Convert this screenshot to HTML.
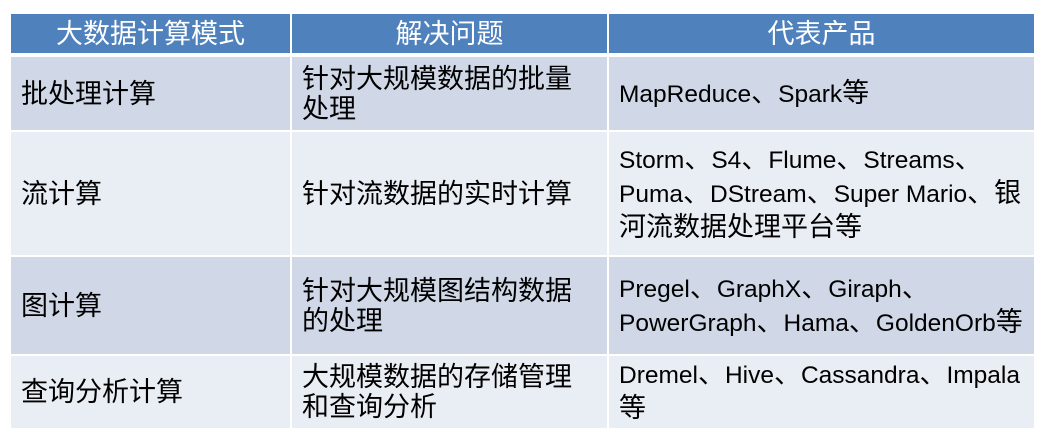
<!DOCTYPE html>
<html><head><meta charset="utf-8"><style>
body{margin:0;width:1060px;height:439px;background:#fff;position:relative;overflow:hidden;font-family:"Liberation Sans","Noto Sans CJK SC",sans-serif;color:#000}
.c{position:absolute;box-sizing:border-box;display:flex;align-items:center;padding-left:10px;font-size:27px;line-height:30px;white-space:nowrap}
.h{background:#4f81bd;color:#fff;justify-content:center;padding:0;font-size:27px}
.p{font-size:24.5px;line-height:32px}
.p span{font-size:27px}
.a{background:#d0d8e8}.b{background:#e9edf4}
</style></head><body>
<div class="c h" style="left:11px;top:14px;width:279px;height:39px">大数据计算模式</div>
<div class="c h" style="left:292px;top:14px;width:315px;height:39px">解决问题</div>
<div class="c h" style="left:609px;top:14px;width:425px;height:39px">代表产品</div>

<div class="c a" style="left:11px;top:57px;width:279px;height:73px">批处理计算</div>
<div class="c a" style="left:292px;top:57px;width:315px;height:73px"><div>针对大规模数据的批量<br>处理</div></div>
<div class="c a p" style="left:609px;top:57px;width:425px;height:73px"><div>MapReduce<span>、</span>Spark<span>等</span></div></div>

<div class="c b" style="left:11px;top:132px;width:279px;height:123px">流计算</div>
<div class="c b" style="left:292px;top:132px;width:315px;height:123px">针对流数据的实时计算</div>
<div class="c b p" style="left:609px;top:132px;width:425px;height:123px"><div>Storm<span>、</span>S4<span>、</span>Flume<span>、</span>Streams<span>、</span><br>Puma<span>、</span>DStream<span>、</span>Super Mario<span>、银</span><br><span>河流数据处理平台等</span></div></div>

<div class="c a" style="left:11px;top:257px;width:279px;height:97px">图计算</div>
<div class="c a" style="left:292px;top:257px;width:315px;height:97px"><div>针对大规模图结构数据<br>的处理</div></div>
<div class="c a p" style="left:609px;top:257px;width:425px;height:97px"><div>Pregel<span>、</span>GraphX<span>、</span>Giraph<span>、</span><br>PowerGraph<span>、</span>Hama<span>、</span>GoldenOrb<span>等</span></div></div>

<div class="c b" style="left:11px;top:356px;width:279px;height:72px">查询分析计算</div>
<div class="c b" style="left:292px;top:356px;width:315px;height:72px"><div>大规模数据的存储管理<br>和查询分析</div></div>
<div class="c b p" style="left:609px;top:356px;width:425px;height:72px"><div>Dremel<span>、</span>Hive<span>、</span>Cassandra<span>、</span>Impala<br><span>等</span></div></div>
</body></html>
